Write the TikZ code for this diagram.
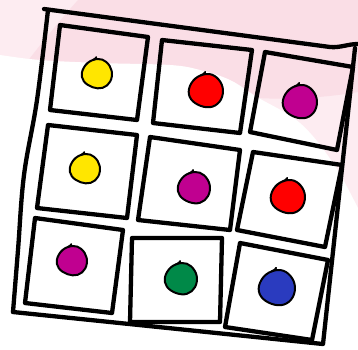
\documentclass[tikz,border=0pt]{standalone}
\definecolor{lpink}{RGB}{253,236,241}
\definecolor{dpink}{RGB}{250,222,230}
\definecolor{cyel}{RGB}{255,230,0}
\definecolor{cred}{RGB}{255,0,0}
\definecolor{cpur}{RGB}{192,0,144}
\definecolor{cgrn}{RGB}{0,137,72}
\definecolor{cblu}{RGB}{42,59,191}
\tikzset{
  frame/.style={line width=4.3pt, line join=round, line cap=round},
  blobline/.style={line width=2pt, line join=round, line cap=round}
}
\newcommand{\myblob}[4]{%
  \begin{scope}[shift={(#1,#2)}, scale=#3]
    \draw[blobline, fill=#4] plot[smooth cycle, tension=0.65] coordinates
      {(0.05,-1) (0.62,-0.8) (0.98,-0.2) (0.88,0.5) (0.38,0.92) (-0.3,0.88) (-0.88,0.48) (-1,-0.12) (-0.62,-0.74)};
    \draw[blobline] (-0.3,-0.92) .. controls (-0.1,-1.02) .. (-0.05,-1.12);
  \end{scope}}
\begin{document}
\begin{tikzpicture}[x=1pt, y=-1pt]
  \useasboundingbox (0,0) rectangle (358,349);
  % background
  \fill[lpink] (0,0) rectangle (358,349);
  \fill[dpink] (78,0) .. controls (60,20) and (40,45) .. (27,62)
    -- (27,150) -- (200,150) -- (258,98)
    .. controls (290,100) and (330,97) .. (358,92) -- (358,0) -- cycle;
  \fill[white] plot[smooth, tension=0.6] coordinates
    {(-5,54) (0,55) (40,60) (100,63) (170,65) (200,70) (230,80) (257,97) (300,123) (333,163) (358,208) (362,218)}
    -- (362,355) -- (-5,355) -- cycle;
  % outer frame
  \draw[frame] (44,9) -- (330,47) .. controls (340,48) and (348,44) .. (358,44);
  \draw[frame] (355,48) -- (323,344) -- (13,312);
  \draw[frame] plot[smooth, tension=0.6] coordinates {(13,312) (18,250) (24,175) (37,100) (48,10)};
  % cells
  \draw[frame] (60,25) -- (148,37) -- (137,120) -- (50,110) -- cycle;
  \draw[frame] (162,40) -- (252,50) -- (240,133) -- (153,123) -- cycle;
  \draw[frame] (265,52) -- (353,67) -- (337,150) -- (250,132) -- cycle;
  \draw[frame] (48,125) -- (137,135) -- (127,218) -- (37,208) -- cycle;
  \draw[frame] (150,137) -- (240,150) -- (230,230) -- (138,220) -- cycle;
  \draw[frame] (253,152) -- (342,165) -- (325,247) -- (237,230) -- cycle;
  \draw[frame] (35,218) -- (123,230) -- (112,313) -- (25,303) -- cycle;
  \draw[frame] (132,238) -- (222,238) -- (220,322) -- (130,322) -- cycle;
  \draw[frame] (240,243) -- (328,260) -- (312,340) -- (225,327) -- cycle;
  % blobs
  \myblob{97}{74}{15}{cyel}
  \myblob{206}{91}{17}{cred}
  \myblob{300}{102}{17}{cpur}
  \myblob{85}{169}{15}{cyel}
  \myblob{194}{188}{16}{cpur}
  \myblob{288}{197}{17}{cred}
  \myblob{72}{261}{15}{cpur}
  \myblob{181}{279}{16}{cgrn}
  \myblob{277}{288}{18}{cblu}
\end{tikzpicture}
\end{document}
